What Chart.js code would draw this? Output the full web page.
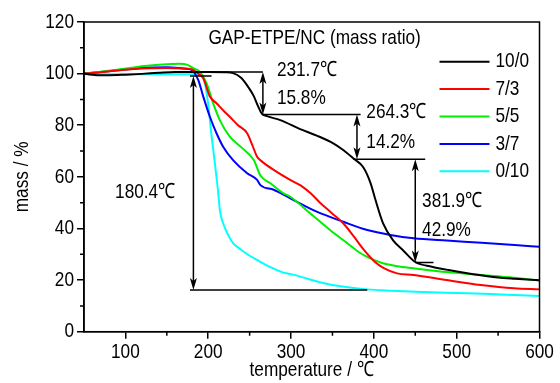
<!DOCTYPE html>
<html lang="en">
<head>
<meta charset="UTF-8" />
<title>TG curves of GAP-ETPE/NC</title>
<style>
  html, body { margin:0; padding:0; background:#fff; }
  #wrap { width:560px; height:383px; }
  canvas { display:block; }
</style>
</head>
<body>
<div id="wrap"><canvas id="chart" width="560" height="383"></canvas></div>

<script src="https://cdn.jsdelivr.net/npm/chart.js"></script>
<script>
// series: temperature (°C) and mass (%)
const seriesNames = ['10/0', '7/3', '5/5', '3/7', '0/10'];
const seriesColors = ['#000000', '#ff0000', '#00ee00', '#0000ff', '#00ffff'];

const tBlack = [50,60,70,80,100,120,140,160,180,200,220,230,240,250,255,260,265,270,287,311,331,351,363,375,387,396,402,411,423,436,450,470,490,520,550,570,600];
const mBlack = [100,99.6,99.4,99.4,99.6,99.9,100.3,100.6,100.6,100.6,100.5,100.2,98.3,94.0,91.3,87.5,84.4,83.6,82.0,78.5,76.0,73.0,70.4,67.2,63.8,57.6,51.0,42.1,35.5,31.3,27.0,25.2,23.9,22.3,21.0,20.5,19.9];

const tRed = [50,70,90,110,130,150,170,182,188,194,202,210,218,226,236,247,253,259,265,279,299,311,323,335,349,363,376,388,401,412,428,448,488,529,569,600];
const mRed = [100,100.5,101.2,101.8,102.1,102.2,102.0,101.4,100.0,98.2,91.1,88.5,85.8,83.3,80.0,76.9,72.5,67.8,65.9,62.7,58.8,56.8,53.8,50.0,46.0,42.0,36.8,31.7,27.1,24.6,22.6,22.0,20.0,18.1,16.8,16.4];

const tGreen = [50,70,90,110,130,150,165,175,182,190,198,206,214,226,239,255,263,275,291,299,323,347,368,384,400,410,428,448,488,529,569,600];
const mGreen = [100,100.7,101.5,102.4,103.1,103.6,103.8,103.4,102.1,100.7,96.2,88.5,82.0,75.6,71.7,66.5,60.5,57.5,53.6,52.3,45.9,39.4,34.3,30.4,27.8,26.6,25.4,24.6,23.1,22.0,20.9,19.8];

const tBlue = [50,70,90,110,130,150,165,175,180,188,194,202,210,218,230,247,259,263,279,299,331,363,392,420,448,488,530,570,600];
const mBlue = [100,100.6,101.3,101.9,102.4,102.5,102.2,101.8,101.4,97.5,91.1,83.3,76.9,71.7,66.5,61.4,58.8,56.8,55.0,51.7,46.5,42.6,39.4,37.5,36.2,35.3,34.5,33.6,32.9];

const tCyan = [50,80,110,140,170,185,190,196,200,204,208,212,214,218,223,230,235,245,259,275,290,300,320,340,360,392,420,460,500,540,570,600];
const mCyan = [99.8,99.8,99.8,99.8,99.8,99.8,99.7,96.2,88.0,76.0,65.3,54.0,47.2,42.0,38.2,34.3,32.9,30.5,27.8,25.0,23.0,22.3,20.5,18.8,17.6,16.4,15.9,15.4,15.0,14.6,14.2,13.8];

// axes
const xTicks = [100, 200, 300, 400, 500, 600];
const xMinor = [150, 250, 350, 450, 550];
const yTicks = [0, 20, 40, 60, 80, 100, 120];
const yMinor = [10, 30, 50, 70, 90, 110];

// guide lines [x from, x to, mass]
const guideLines = [
  [195, 266, 100.6],
  [265, 384, 84.2],
  [375, 462, 66.8],
  [450, 472, 26.8],
  [178, 204, 99.1],
  [178, 392, 16.2]
];
// double arrows [temperature, mass top, mass bottom]
const arrows = [
  [266, 100.6, 84.2],
  [379.6, 84.2, 66.8],
  [450, 66.8, 26.8],
  [182.1, 99.1, 16.2]
];
// notes [text, temperature, mass]
const notes = [
  ['GAP-ETPE/NC (mass ratio)', 200.2, 113.9],
  ['231.7℃', 282.9, 101.4],
  ['15.8%', 282.9, 90.6],
  ['264.3℃', 390.9, 84.9],
  ['14.2%', 390.9, 73.6],
  ['381.9℃', 458.2, 50.4],
  ['42.9%', 458.2, 39.4],
  ['180.4℃', 87.5, 54.1]
];

const FONT = "'Liberation Sans Narrow','Arial Narrow','Liberation Sans',Arial,sans-serif";
Chart.defaults.font.family = FONT;
Chart.defaults.font.size = 21;
Chart.defaults.color = '#000';

const pairs = (xs, ys) => xs.map((v, i) => ({ x: v, y: ys[i] }));
const allT = [tBlack, tRed, tGreen, tBlue, tCyan];
const allM = [mBlack, mRed, mGreen, mBlue, mCyan];

// no narrow face installed: squeeze every label horizontally around its anchor
const narrowText = {
  id: 'narrowText',
  beforeInit(chart) {
    const ctx = chart.ctx;
    const fill = ctx.fillText.bind(ctx);
    ctx.fillText = (s, px, py) => {
      ctx.save();
      ctx.translate(px, py);
      ctx.scale(0.82, 1);
      fill(s, 0, 0);
      ctx.restore();
    };
  }
};

// box, minor ticks, guide lines, arrows, notes and legend
const extras = {
  id: 'extras',
  afterDatasetsDraw(chart) {
    const { ctx, chartArea: a, scales: { x, y } } = chart;
    ctx.save();
    ctx.strokeStyle = '#000';
    ctx.fillStyle = '#000';
    ctx.lineWidth = 1.5;
    ctx.strokeRect(a.left, a.top, a.right - a.left, a.bottom - a.top);

    ctx.beginPath();
    xMinor.forEach(v => {
      const px = x.getPixelForValue(v);
      ctx.moveTo(px, a.bottom); ctx.lineTo(px, a.bottom + 4);
    });
    yMinor.forEach(v => {
      const py = y.getPixelForValue(v);
      ctx.moveTo(a.left, py); ctx.lineTo(a.left - 4, py);
    });
    ctx.stroke();

    ctx.beginPath();
    guideLines.forEach(([x1, x2, v]) => {
      const py = y.getPixelForValue(v);
      ctx.moveTo(x.getPixelForValue(x1), py);
      ctx.lineTo(x.getPixelForValue(x2), py);
    });
    ctx.stroke();

    function head(px, py, dir) {
      ctx.beginPath();
      ctx.moveTo(px, py);
      ctx.lineTo(px - 3.5, py - dir * 12);
      ctx.lineTo(px, py - dir * 9);
      ctx.lineTo(px + 3.5, py - dir * 12);
      ctx.closePath();
      ctx.fill();
    }
    arrows.forEach(([t, m1, m2]) => {
      const px = x.getPixelForValue(t);
      const p1 = y.getPixelForValue(m1), p2 = y.getPixelForValue(m2);
      ctx.beginPath();
      ctx.moveTo(px, p1 + 6); ctx.lineTo(px, p2 - 6);
      ctx.stroke();
      head(px, p1, -1);
      head(px, p2, 1);
    });

    ctx.font = `21px ${FONT}`;
    ctx.textAlign = 'left';
    ctx.textBaseline = 'middle';
    notes.forEach(([s, t, m]) => ctx.fillText(s, x.getPixelForValue(t), y.getPixelForValue(m)));

    // legend inside the plot, top right
    chart.data.datasets.forEach((ds, i) => {
      const py = a.top + 39.7 + i * 27.4;
      ctx.strokeStyle = ds.borderColor;
      ctx.lineWidth = 2;
      ctx.beginPath();
      ctx.moveTo(a.right - 100, py); ctx.lineTo(a.right - 50, py);
      ctx.stroke();
      ctx.fillText(ds.label, a.right - 44, py);
    });
    ctx.restore();
  }
};

new Chart(document.getElementById('chart'), {
  type: 'line',
  data: {
    datasets: seriesNames.map((name, i) => ({
      label: name,
      data: pairs(allT[i], allM[i]),
      borderColor: seriesColors[i],
      borderWidth: 2,
      pointRadius: 0,
      cubicInterpolationMode: 'monotone',
      fill: false
    }))
  },
  options: {
    responsive: false,
    animation: false,
    layout: { padding: { left: 0, right: 20.5, top: 22, bottom: 0 } },
    plugins: { legend: { display: false }, tooltip: { enabled: false } },
    scales: {
      x: {
        type: 'linear', min: 50, max: 600,
        afterBuildTicks: s => { s.ticks = xTicks.map(v => ({ value: v })); },
        afterFit: s => { s.height = 51.3; },
        grid: { display: true, drawOnChartArea: false, drawTicks: true, tickLength: 7, color: '#000', lineWidth: 1.5 },
        border: { display: true, color: '#000', width: 1.5 },
        ticks: { color: '#000', padding: 1, maxRotation: 0, autoSkip: false },
        title: { display: true, text: 'temperature / ℃', color: '#000', padding: { top: 0, bottom: 0 } }
      },
      y: {
        type: 'linear', min: 0, max: 120,
        afterBuildTicks: s => { s.ticks = yTicks.map(v => ({ value: v })); },
        afterFit: s => { s.width = 84; },
        grid: { display: true, drawOnChartArea: false, drawTicks: true, tickLength: 7, color: '#000', lineWidth: 1.5 },
        border: { display: true, color: '#000', width: 1.5 },
        ticks: { color: '#000', padding: 3, autoSkip: false },
        title: { display: true, text: 'mass / %', color: '#000', padding: { top: 10, bottom: 0 } }
      }
    }
  },
  plugins: [narrowText, extras]
});
</script>
</body>
</html>
